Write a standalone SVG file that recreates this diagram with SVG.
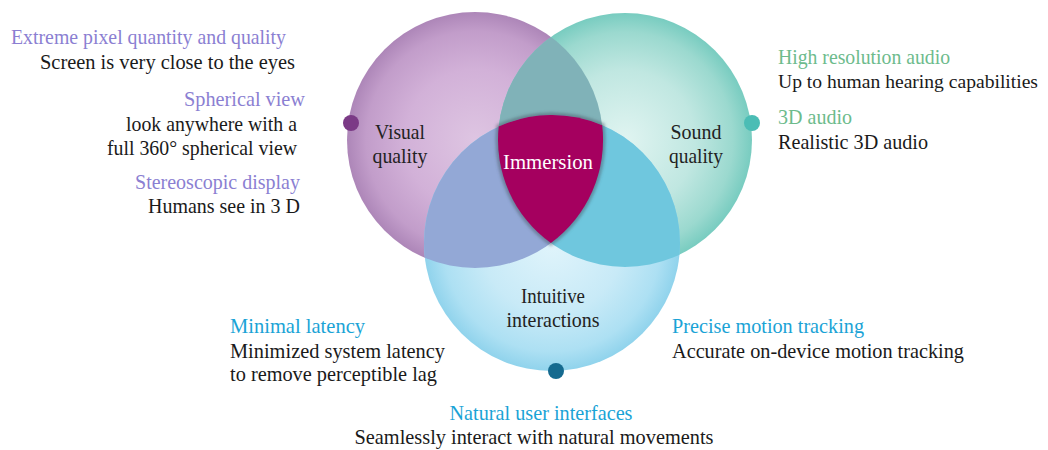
<svg xmlns="http://www.w3.org/2000/svg" width="1048" height="450" viewBox="0 0 1048 450" font-family="'Liberation Serif', 'Times New Roman', serif">
  <style>
    text { font-family: "Liberation Serif", "Times New Roman", Times, serif; font-size: 21px; fill: #1a1a1a; }
    .hv { fill: #8b7fd2; }
    .ha { fill: #6dbb8c; }
    .hi { fill: #1aa3d6; }
    .lbl { fill: #222222; text-anchor: middle; }
    .wht { fill: #ffffff; text-anchor: middle; }
    .end { text-anchor: end; }
    .mid { text-anchor: middle; }
  </style>
  <defs>
    <radialGradient id="gPurple" cx="0.5" cy="0.5" r="0.5">
      <stop offset="0" stop-color="#dec5e2"/>
      <stop offset="0.55" stop-color="#d2b1d8"/>
      <stop offset="0.85" stop-color="#c29dca"/>
      <stop offset="1" stop-color="#ad86b8"/>
    </radialGradient>
    <radialGradient id="gTeal" cx="0.5" cy="0.5" r="0.5">
      <stop offset="0" stop-color="#e0f4f1"/>
      <stop offset="0.55" stop-color="#c0e7e1"/>
      <stop offset="0.85" stop-color="#9bd9cf"/>
      <stop offset="1" stop-color="#78ccc0"/>
    </radialGradient>
    <radialGradient id="gBlue" cx="0.5" cy="0.5" r="0.5">
      <stop offset="0" stop-color="#e0f4fb"/>
      <stop offset="0.55" stop-color="#c8eaf7"/>
      <stop offset="0.85" stop-color="#ade0f3"/>
      <stop offset="1" stop-color="#90d3ec"/>
    </radialGradient>
    <clipPath id="cPurple"><circle cx="475" cy="140" r="128"/></clipPath>
    <clipPath id="cTeal"><circle cx="625" cy="140" r="127"/></clipPath>
    <filter id="soft" x="-10%" y="-10%" width="120%" height="120%">
      <feGaussianBlur stdDeviation="1.5"/>
    </filter>
  </defs>

  <!-- three quality circles -->
  <g id="visual-circle">
    <circle cx="475" cy="140" r="128" fill="url(#gPurple)"/>
    <circle cx="351" cy="123" r="8" fill="#7b3a86"/>
  </g>
  <g id="sound-circle">
    <circle cx="625" cy="140" r="127" fill="url(#gTeal)"/>
    <circle cx="752" cy="123" r="8" fill="#4bbdb5"/>
  </g>
  <g id="overlaps">
    <!-- visual ∩ sound -->
    <circle cx="625" cy="140" r="127" fill="#80b2b8" clip-path="url(#cPurple)"/>
    <g id="interaction-circle">
      <circle cx="552" cy="243" r="128" fill="url(#gBlue)"/>
    </g>
    <!-- visual ∩ interaction -->
    <circle cx="552" cy="243" r="128" fill="#93a8d6" clip-path="url(#cPurple)"/>
    <!-- sound ∩ interaction -->
    <circle cx="552" cy="243" r="128" fill="#6fc7de" clip-path="url(#cTeal)"/>
  </g>
  <g id="interaction-dot">
    <circle cx="556" cy="371" r="8" fill="#156a8f"/>
  </g>

  <!-- centre: immersion -->
  <g id="immersion">
    <path d="M498.7,126.6 A128,128 0 0 1 602.2,125.2 A128,128 0 0 1 550.9,243.1 A127,127 0 0 1 498.7,126.6 Z" fill="none" stroke="#4a5a6a" stroke-opacity="0.5" stroke-width="5" filter="url(#soft)"/>
    <path d="M498.7,126.6 A128,128 0 0 1 602.2,125.2 A128,128 0 0 1 550.9,243.1 A127,127 0 0 1 498.7,126.6 Z" fill="#a5005f"/>
    <text x="548" y="169" class="wht" textLength="90" lengthAdjust="spacingAndGlyphs">Immersion</text>
  </g>

  <!-- circle labels -->
  <g id="visual-label">
    <text x="400" y="139" class="lbl" textLength="50" lengthAdjust="spacingAndGlyphs">Visual</text>
    <text x="400" y="163" class="lbl" textLength="55" lengthAdjust="spacingAndGlyphs">quality</text>
  </g>
  <g id="sound-label">
    <text x="696" y="139" class="lbl" textLength="51" lengthAdjust="spacingAndGlyphs">Sound</text>
    <text x="696" y="163" class="lbl" textLength="54" lengthAdjust="spacingAndGlyphs">quality</text>
  </g>
  <g id="interaction-label">
    <text x="553" y="303" class="lbl" textLength="64" lengthAdjust="spacingAndGlyphs">Intuitive</text>
    <text x="553" y="327" class="lbl" textLength="93" lengthAdjust="spacingAndGlyphs">interactions</text>
  </g>

  <!-- visual quality notes -->
  <g id="visual-notes">
    <text x="11" y="44" class="hv" textLength="275" lengthAdjust="spacingAndGlyphs">Extreme pixel quantity and quality</text>
    <text x="40" y="69" textLength="255" lengthAdjust="spacingAndGlyphs">Screen is very close to the eyes</text>
    <text x="305" y="106" class="hv end" textLength="121" lengthAdjust="spacingAndGlyphs">Spherical view</text>
    <text x="297" y="131" class="end" textLength="171" lengthAdjust="spacingAndGlyphs">look anywhere with a</text>
    <text x="297" y="155" class="end" textLength="190" lengthAdjust="spacingAndGlyphs">full 360° spherical view</text>
    <text x="300" y="189" class="hv end" textLength="165" lengthAdjust="spacingAndGlyphs">Stereoscopic display</text>
    <text x="300" y="213" class="end" textLength="152" lengthAdjust="spacingAndGlyphs">Humans see in 3 D</text>
  </g>

  <!-- sound quality notes -->
  <g id="sound-notes">
    <text x="778" y="64" class="ha" textLength="172" lengthAdjust="spacingAndGlyphs">High resolution audio</text>
    <text x="778" y="88" style="font-size:19px" textLength="260" lengthAdjust="spacingAndGlyphs">Up to human hearing capabilities</text>
    <text x="778" y="124" class="ha" textLength="74" lengthAdjust="spacingAndGlyphs">3D audio</text>
    <text x="778" y="149" textLength="150" lengthAdjust="spacingAndGlyphs">Realistic 3D audio</text>
  </g>

  <!-- interaction notes -->
  <g id="interaction-notes">
    <text x="230" y="333" class="hi" textLength="135" lengthAdjust="spacingAndGlyphs">Minimal latency</text>
    <text x="230" y="358" textLength="215" lengthAdjust="spacingAndGlyphs">Minimized system latency</text>
    <text x="230" y="381" textLength="207" lengthAdjust="spacingAndGlyphs">to remove perceptible lag</text>
    <text x="672" y="333" class="hi" textLength="192" lengthAdjust="spacingAndGlyphs">Precise motion tracking</text>
    <text x="672" y="358" textLength="292" lengthAdjust="spacingAndGlyphs">Accurate on-device motion tracking</text>
    <text x="541" y="420" class="hi mid" textLength="183" lengthAdjust="spacingAndGlyphs">Natural user interfaces</text>
    <text x="534" y="444" class="mid" textLength="359" lengthAdjust="spacingAndGlyphs">Seamlessly interact with natural movements</text>
  </g>
</svg>
